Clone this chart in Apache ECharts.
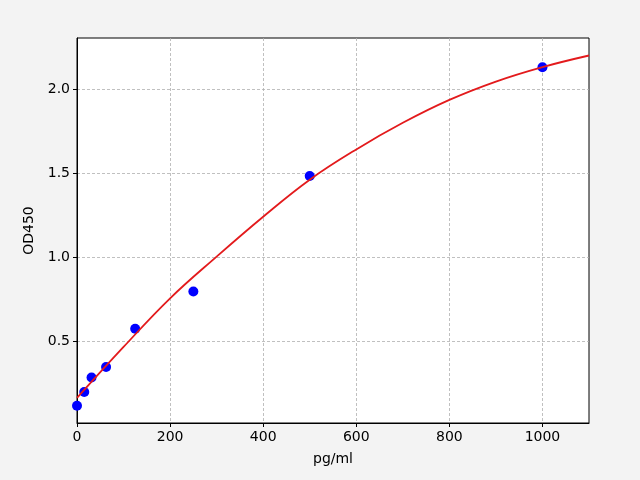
<!DOCTYPE html>
<html>
<head>
	<meta charset="utf-8">
	<title>OD450 standard curve</title>
	<style type="text/css">
		body { margin: 0; padding: 0; background-color: #f3f3f3; }
		#main { width: 640px; height: 480px; }
	</style>
	<script src="https://cdn.jsdelivr.net/npm/echarts@6/dist/echarts.min.js"></script>
</head>
<body>
	<div id="main"></div>
	<script type="text/javascript">

	// measured standards
	var concList = [0, 15.6, 31.25, 62.5, 125, 250, 500, 1000];
	var odList = [0.119, 0.20, 0.286, 0.349, 0.576, 0.797, 1.484, 2.13];

	// fitted curve, every 100 pg/ml
	var curveX = [0, 100, 200, 300, 400, 500, 600, 700, 800, 900, 1000, 1100];
	var curveY = [0.165, 0.468, 0.757, 1.005, 1.242, 1.462, 1.642, 1.80, 1.936, 2.045, 2.131, 2.20];

	// tick labels
	var xTicks = [0, 200, 400, 600, 800, 1000];
	var yTicks = [0.5, 1.0, 1.5, 2.0];

	var pts = concList.map(function (c, i) { return [c, odList[i]]; });
	var line = curveX.map(function (c, i) { return [c, curveY[i]]; });

	var font = 'DejaVu Sans';
	var myChart = echarts.init(document.getElementById('main'));
	myChart.setOption({
		backgroundColor: '#f3f3f3',
		animation: false,
		grid: {
			left: 77, right: 51, top: 38, bottom: 57,
			show: true, backgroundColor: '#fff', borderColor: '#000', borderWidth: 1
		},
		xAxis: {
			type: 'value', min: 0, max: 1100,
			name: 'pg/ml', nameLocation: 'middle', nameGap: 29,
			nameTextStyle: { color: '#000', fontFamily: font, fontSize: 14 },
			axisLine: { onZero: false, lineStyle: { color: '#000', width: 1 } },
			axisTick: { show: true, length: 4, customValues: xTicks, lineStyle: { color: '#000' } },
			axisLabel: {
				customValues: xTicks, color: '#000', fontFamily: font, fontSize: 14, margin: 7,
				formatter: function (v) { return String(v); }
			},
			splitLine: { show: true, lineStyle: { color: '#b0b0b0', type: [3, 2], width: 0.8 } }
		},
		yAxis: {
			type: 'value', min: 0.016, max: 2.304,
			name: 'OD450', nameLocation: 'middle', nameGap: 38,
			nameTextStyle: { color: '#000', fontFamily: font, fontSize: 14 },
			axisLine: { show: true, onZero: false, lineStyle: { color: '#000', width: 1 } },
			axisTick: { show: true, length: 4, customValues: yTicks, lineStyle: { color: '#000' } },
			axisLabel: {
				customValues: yTicks, color: '#000', fontFamily: font, fontSize: 14, margin: 7,
				formatter: function (v) { return v.toFixed(1); }
			},
			splitLine: { show: true, lineStyle: { color: '#b0b0b0', type: [3, 2], width: 0.8 } }
		},
		series: [
			{
				type: 'scatter', data: pts, symbolSize: 10, z: 2,
				itemStyle: { color: '#0000ff', opacity: 1 }
			},
			{
				type: 'line', data: line, smooth: 0.4, showSymbol: false, z: 3,
				lineStyle: { color: '#e31a1c', width: 1.8 }
			}
		]
	});
	</script>
</body>
</html>
